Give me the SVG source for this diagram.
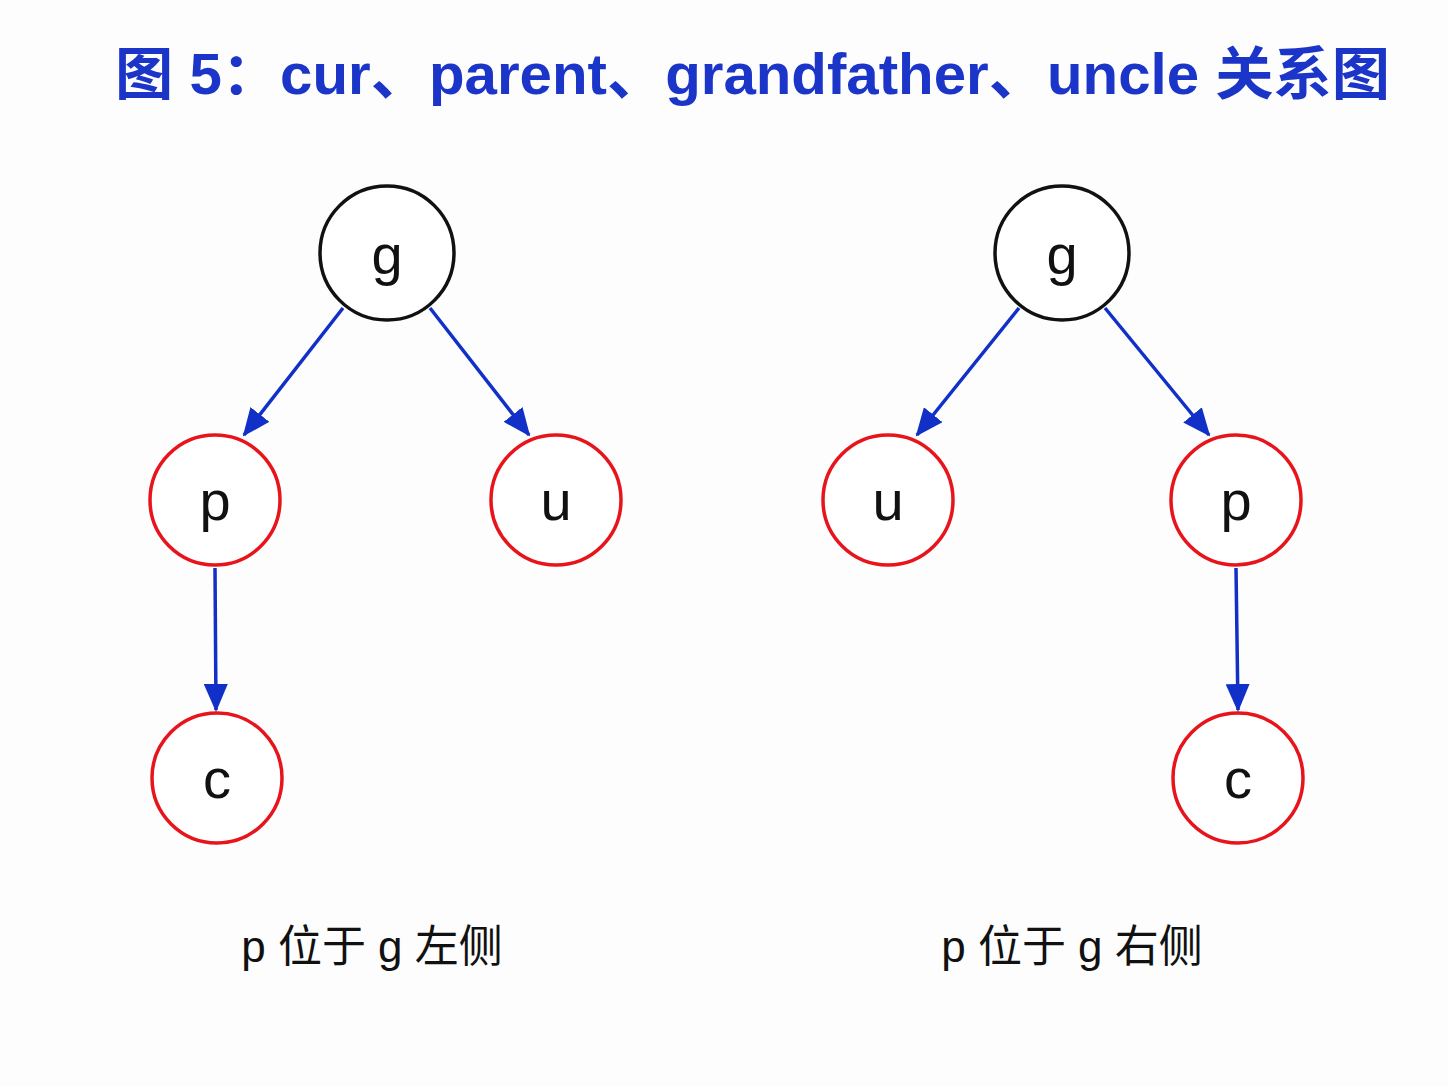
<svg xmlns="http://www.w3.org/2000/svg" width="1448" height="1086" viewBox="0 0 1448 1086">
<style>
.n circle{fill:#fff;stroke-width:3.5}
.b circle{stroke:#111}
.r circle{stroke:#e8141b}
.n text{font-family:"Liberation Sans",Arial,sans-serif;font-size:56px;fill:#111;text-anchor:middle}
.e line{stroke:#1030c8;stroke-width:3.5;marker-end:url(#a)}
.lab{font-family:"Liberation Sans","Noto Sans CJK SC",sans-serif;font-size:44px;fill:#111;text-anchor:middle}
</style>
<defs><marker id="a" viewBox="0 0 28 24" refX="26" refY="12" markerWidth="28" markerHeight="24" markerUnits="userSpaceOnUse" orient="auto"><path d="M0,0L28,12L0,24z" fill="#1030c8"/></marker></defs>
<rect width="1448" height="1086" fill="#fdfdfd"/>
<text x="115" y="94" textLength="1275" lengthAdjust="spacingAndGlyphs" font-family="Liberation Sans,'Noto Sans CJK SC',sans-serif" font-weight="bold" font-size="57" fill="#1a35c8">图 5：cur、parent、grandfather、uncle 关系图</text>
<g class="e">
<line x1="343" y1="308" x2="244" y2="435"/>
<line x1="430" y1="308" x2="529" y2="435"/>
<line x1="215" y1="568" x2="216" y2="710"/>
<line x1="1019" y1="308" x2="917" y2="435"/>
<line x1="1105" y1="308" x2="1209" y2="435"/>
<line x1="1236" y1="568" x2="1238" y2="710"/>
</g>
<g id="g1" class="n b"><circle cx="387" cy="253" r="67"/><text x="387" y="274">g</text></g>
<g id="p1" class="n r"><circle cx="215" cy="500" r="65"/><text x="215" y="520">p</text></g>
<g id="u1" class="n r"><circle cx="556" cy="500" r="65"/><text x="556" y="520">u</text></g>
<g id="c1" class="n r"><circle cx="217" cy="778" r="65"/><text x="217" y="798">c</text></g>
<g id="g2" class="n b"><circle cx="1062" cy="253" r="67"/><text x="1062" y="274">g</text></g>
<g id="u2" class="n r"><circle cx="888" cy="500" r="65"/><text x="888" y="520">u</text></g>
<g id="p2" class="n r"><circle cx="1236" cy="500" r="65"/><text x="1236" y="520">p</text></g>
<g id="c2" class="n r"><circle cx="1238" cy="778" r="65"/><text x="1238" y="798">c</text></g>
<text class="lab" x="372" y="962">p 位于 g 左侧</text>
<text class="lab" x="1072" y="962">p 位于 g 右侧</text>
</svg>
